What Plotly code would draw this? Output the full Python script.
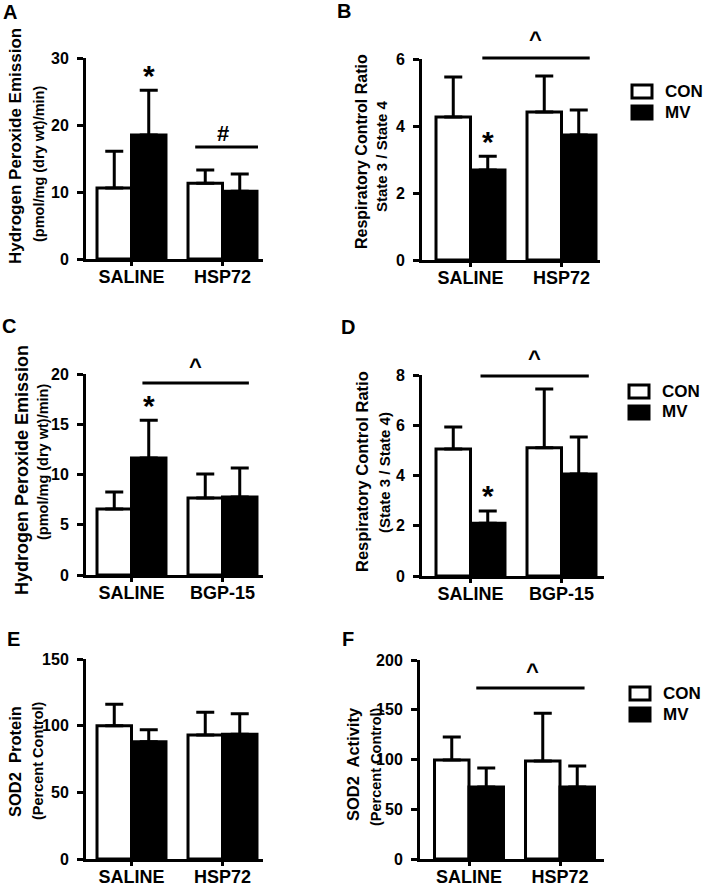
import plotly.graph_objects as go

W, H = 709, 886

# ---------------- data ----------------
groups_hsp = ["SALINE", "HSP72"]
groups_bgp = ["SALINE", "BGP-15"]
series_names = ["CON", "MV"]

# A: H2O2 emission (HSP72)
A_con = [10.6, 11.3]
A_con_err = [5.5, 2.0]
A_mv = [18.5, 10.1]
A_mv_err = [6.7, 2.6]

# B: RCR (HSP72)
B_con = [4.27, 4.42]
B_con_err = [1.19, 1.07]
B_mv = [2.69, 3.73]
B_mv_err = [0.41, 0.75]

# C: H2O2 emission (BGP-15)
C_con = [6.57, 7.66]
C_con_err = [1.69, 2.39]
C_mv = [11.64, 7.76]
C_mv_err = [3.76, 2.89]

# D: RCR (BGP-15)
D_con = [5.05, 5.10]
D_con_err = [0.88, 2.34]
D_mv = [2.10, 4.06]
D_mv_err = [0.49, 1.47]

# E: SOD2 protein
E_con = [100.0, 93.0]
E_con_err = [16.0, 17.0]
E_mv = [88.0, 93.5]
E_mv_err = [9.0, 15.5]

# F: SOD2 activity
F_con = [99.5, 98.5]
F_con_err = [23.0, 48.0]
F_mv = [72.4, 72.4]
F_mv_err = [19.0, 21.0]

FONT = "Liberation Sans, Arial, Helvetica, sans-serif"


def xp(px):
    return px / W


def yp(py):
    return 1 - py / H


panels = [
    dict(letter="A", cats=groups_hsp, con=A_con, cerr=A_con_err, mv=A_mv, merr=A_mv_err,
         yr=[0, 30], dt=10, box=(86, 263, 58, 259), c0=131.5, d=91,
         t1="Hydrogen Peroxide Emission", t1s=17, t1pos=(15, 146),
         t2="(pmol/mg (dry wt)/min)", t2s=14.5, t2pos=(39, 164),
         lpos=(10, 12), legend=None,
         star=(0.19, 27.4), sym=("#", 1.0, 133, 22), line=(0.70, 1.39, 147)),
    dict(letter="B", cats=groups_hsp, con=B_con, cerr=B_con_err, mv=B_mv, merr=B_mv_err,
         yr=[0, 6], dt=2, box=(422, 600, 59, 260), c0=470.5, d=91,
         t1="Respiratory Control Ratio", t1s=16, t1pos=(361, 152),
         t2="State 3 / State 4", t2s=15, t2pos=(381, 156),
         lpos=(344, 11), legend=(631, 91),
         star=(0.19, 3.54), sym=("^", 0.71, 40, 22), line=(0.13, 1.31, 58)),
    dict(letter="C", cats=groups_bgp, con=C_con, cerr=C_con_err, mv=C_mv, merr=C_mv_err,
         yr=[0, 20], dt=5, box=(86, 263, 374, 575), c0=131.5, d=91,
         t1="Hydrogen Peroxide Emission", t1s=18, t1pos=(22, 470),
         t2="(pmol/mg (dry wt)/min)", t2s=14.5, t2pos=(43, 462),
         lpos=(9, 326), legend=None,
         star=(0.19, 16.87), sym=("^", 0.70, 366, 22), line=(0.12, 1.29, 383)),
    dict(letter="D", cats=groups_bgp, con=D_con, cerr=D_con_err, mv=D_mv, merr=D_mv_err,
         yr=[0, 8], dt=2, box=(422, 604, 375, 576), c0=470.5, d=91,
         t1="Respiratory Control Ratio", t1s=16.5, t1pos=(362, 472),
         t2="(State 3 / State 4)", t2s=15, t2pos=(384, 473),
         lpos=(348, 327), legend=(628, 391),
         star=(0.19, 3.20), sym=("^", 0.70, 358, 22), line=(0.11, 1.30, 376)),
    dict(letter="E", cats=groups_hsp, con=E_con, cerr=E_con_err, mv=E_mv, merr=E_mv_err,
         yr=[0, 150], dt=50, box=(86, 263, 659, 859), c0=131.5, d=91,
         t1="SOD2  Protein", t1s=16.5, t1pos=(15, 762),
         t2="(Percent Control)", t2s=14.5, t2pos=(38, 761),
         lpos=(13, 639), legend=None,
         star=None, sym=None, line=None),
    dict(letter="F", cats=groups_hsp, con=F_con, cerr=F_con_err, mv=F_mv, merr=F_mv_err,
         yr=[0, 200], dt=50, box=(420, 604, 660, 859), c0=469, d=91,
         t1="SOD2  Activity", t1s=16.5, t1pos=(353, 764),
         t2="(Percent Control)", t2s=14.5, t2pos=(376, 766),
         lpos=(348, 639), legend=(629, 693),
         star=None, sym=("^", 0.70, 671, 22), line=(0.08, 1.27, 688)),
]

fig = go.Figure()
annotations = []
shapes = []
layout_axes = {}


def txt(text, x, y, size, xref="paper", yref="paper", angle=0, xanchor="center"):
    return dict(text=text, x=x, y=y, xref=xref, yref=yref, showarrow=False,
                textangle=angle, xanchor=xanchor, yanchor="middle",
                font=dict(family=FONT, size=size, color="black", weight="bold"))


for i, p in enumerate(panels, start=1):
    xa = "x" if i == 1 else f"x{i}"
    ya = "y" if i == 1 else f"y{i}"
    left, right, top, bottom = p["box"]
    for name, vals, errs, color in [(series_names[0], p["con"], p["cerr"], "white"),
                                    (series_names[1], p["mv"], p["merr"], "black")]:
        fig.add_trace(go.Bar(
            x=[0, 1], y=vals, name=name, xaxis=xa, yaxis=ya,
            marker=dict(color=color, line=dict(color="black", width=3)),
            error_y=dict(type="data", array=errs, arrayminus=[0] * len(errs), symmetric=False,
                         color="black", thickness=3, width=9),
            showlegend=False, hoverinfo="skip",
        ))
    xr = [(left - p["c0"]) / p["d"], (right - p["c0"]) / p["d"]]
    layout_axes["xaxis" if i == 1 else f"xaxis{i}"] = dict(
        domain=[xp(left), xp(right)], range=xr, anchor=ya, automargin=False,
        tickvals=[0, 1], ticktext=p["cats"],
        showline=True, linecolor="black", linewidth=3, mirror=False,
        ticks="outside", ticklen=4, tickwidth=3, tickcolor="black",
        showgrid=False, zeroline=False,
        tickfont=dict(family=FONT, size=18, color="black", weight="bold"),
    )
    layout_axes["yaxis" if i == 1 else f"yaxis{i}"] = dict(
        domain=[yp(bottom), yp(top)], range=p["yr"], dtick=p["dt"], anchor=xa, automargin=False,
        showline=True, linecolor="black", linewidth=3,
        ticks="outside", ticklen=6, tickwidth=3, tickcolor="black",
        showgrid=False, zeroline=False, ticklabelstandoff=5,
        tickfont=dict(family=FONT, size=16, color="black", weight="bold"),
    )
    annotations.append(txt(p["letter"], xp(p["lpos"][0]), yp(p["lpos"][1]), 20))
    annotations.append(txt(p["t1"], xp(p["t1pos"][0]), yp(p["t1pos"][1]), p["t1s"], angle=-90))
    annotations.append(txt(p["t2"], xp(p["t2pos"][0]), yp(p["t2pos"][1]), p["t2s"], angle=-90))
    if p["star"]:
        annotations.append(txt("*", p["star"][0], p["star"][1], 30, xref=xa, yref=ya))
    if p["sym"]:
        s, sx, sy_px, ss = p["sym"]
        annotations.append(txt(s, sx, yp(sy_px), ss, xref=xa, yref="paper"))
    if p["line"]:
        x0, x1, ly_px = p["line"]
        shapes.append(dict(type="line", xref=xa, yref="paper", x0=x0, x1=x1,
                           y0=yp(ly_px), y1=yp(ly_px),
                           line=dict(color="black", width=3)))
    if p["legend"]:
        lx, ly = p["legend"]
        for k, (name, fill) in enumerate([(series_names[0], "white"), (series_names[1], "black")]):
            cy = ly + k * 21
            shapes.append(dict(type="rect", xref="paper", yref="paper",
                               x0=xp(lx + 1), x1=xp(lx + 21), y0=yp(cy + 7), y1=yp(cy - 6),
                               fillcolor=fill, line=dict(color="black", width=3)))
            annotations.append(txt(name, xp(lx + 32), yp(cy), 17, xanchor="left"))

fig.update_layout(
    template="none",
    width=W, height=H,
    margin=dict(l=0, r=0, t=0, b=0, pad=0, autoexpand=False),
    paper_bgcolor="white", plot_bgcolor="white",
    barmode="group", bargap=0.242, bargroupgap=0,
    showlegend=False,
    font=dict(family=FONT, color="black", weight="bold"),
    annotations=annotations, shapes=shapes,
    **layout_axes,
)

# pull the category labels up to sit just under the axis, as in the reference
try:
    fig.update_xaxes(ticklabelstandoff=-5)
except (ValueError, TypeError):
    fig.update_xaxes(ticklen=1)

fig.write_html(
    "out.html",
    config={"displayModeBar": False},
    post_script="document.body.style.margin='0px';document.body.style.padding='0px';"
                "document.body.style.overflow='hidden';",
)
